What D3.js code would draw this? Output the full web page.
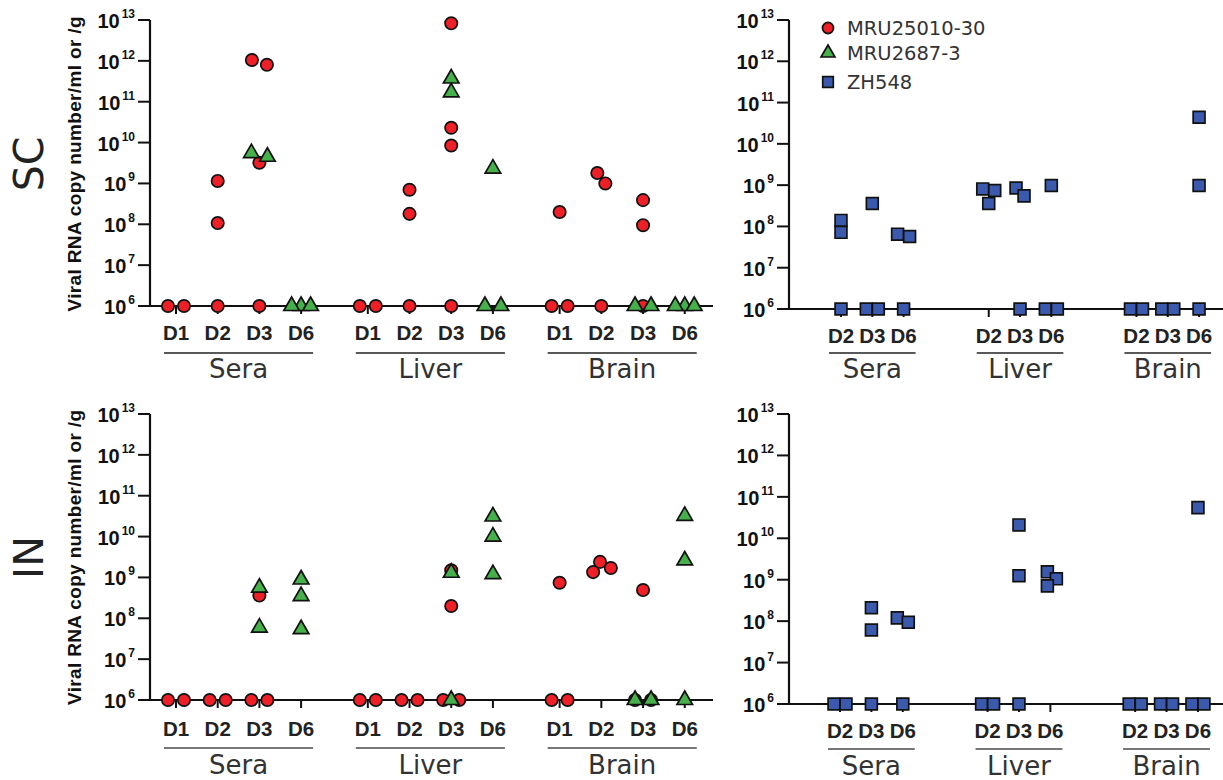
<!DOCTYPE html>
<html><head><meta charset="utf-8">
<script src="https://cdn.jsdelivr.net/npm/d3@7"></script>
<style>body{margin:0;background:#fff}</style>
</head><body><svg id="c" width="1223" height="780"></svg>
<script>
const groups = ["Sera","Liver","Brain"];
const daysMRU = ["D1","D2","D3","D6"];
const daysZH = ["D2","D3","D6"];
const yTickExps = [6,7,8,9,10,11,12,13];
const seriesNames = ["MRU25010-30","MRU2687-3","ZH548"];
const routes = ["SC","IN"];
const yLabel = "Viral RNA copy number/ml or /g";

// [group, day, value]
const sc_MRU25010_30 = [
 ["Sera","D1",1e6],["Sera","D1",1e6],
 ["Sera","D2",1.15e9],["Sera","D2",1.07e8],["Sera","D2",1e6],
 ["Sera","D3",1.05e12],["Sera","D3",8e11],["Sera","D3",3.2e9],["Sera","D3",1e6],
 ["Liver","D1",1e6],["Liver","D1",1e6],
 ["Liver","D2",7e8],["Liver","D2",1.8e8],["Liver","D2",1e6],
 ["Liver","D3",8.3e12],["Liver","D3",2.3e10],["Liver","D3",8.5e9],["Liver","D3",1e6],
 ["Brain","D1",2e8],["Brain","D1",1e6],["Brain","D1",1e6],
 ["Brain","D2",1.8e9],["Brain","D2",1.0e9],["Brain","D2",1e6],
 ["Brain","D3",3.9e8],["Brain","D3",9.5e7],["Brain","D3",1e6]
];
const sc_MRU2687_3 = [
 ["Sera","D3",5.5e9],["Sera","D3",4.5e9],
 ["Sera","D6",1e6],["Sera","D6",1e6],["Sera","D6",1e6],
 ["Liver","D3",3.7e11],["Liver","D3",1.7e11],
 ["Liver","D6",2.3e9],["Liver","D6",1e6],["Liver","D6",1e6],
 ["Brain","D3",1e6],["Brain","D3",1e6],
 ["Brain","D6",1e6],["Brain","D6",1e6],["Brain","D6",1e6]
];
const sc_ZH548 = [
 ["Sera","D2",1.4e8],["Sera","D2",7.2e7],["Sera","D2",1e6],
 ["Sera","D3",3.6e8],["Sera","D3",1e6],["Sera","D3",1e6],
 ["Sera","D6",6.5e7],["Sera","D6",5.7e7],["Sera","D6",1e6],
 ["Liver","D2",8.1e8],["Liver","D2",7.4e8],["Liver","D2",3.6e8],
 ["Liver","D3",8.5e8],["Liver","D3",5.5e8],["Liver","D3",1e6],
 ["Liver","D6",9.8e8],["Liver","D6",1e6],["Liver","D6",1e6],
 ["Brain","D2",1e6],["Brain","D2",1e6],
 ["Brain","D3",1e6],["Brain","D3",1e6],
 ["Brain","D6",4.4e10],["Brain","D6",9.8e8],["Brain","D6",1e6]
];
const in_MRU25010_30 = [
 ["Sera","D1",1e6],["Sera","D1",1e6],
 ["Sera","D2",1e6],["Sera","D2",1e6],
 ["Sera","D3",3.6e8],["Sera","D3",1e6],["Sera","D3",1e6],
 ["Liver","D1",1e6],["Liver","D1",1e6],
 ["Liver","D2",1e6],["Liver","D2",1e6],
 ["Liver","D3",1.5e9],["Liver","D3",2e8],["Liver","D3",1e6],["Liver","D3",1e6],
 ["Brain","D1",7.4e8],["Brain","D1",1e6],["Brain","D1",1e6],
 ["Brain","D2",2.4e9],["Brain","D2",1.7e9],["Brain","D2",1.35e9],
 ["Brain","D3",4.9e8],["Brain","D3",1e6],["Brain","D3",1e6]
];
const in_MRU2687_3 = [
 ["Sera","D3",5.6e8],["Sera","D3",5.9e7],
 ["Sera","D6",8.9e8],["Sera","D6",3.5e8],["Sera","D6",5.4e7],
 ["Liver","D3",1.3e9],["Liver","D3",1e6],
 ["Liver","D6",3.1e10],["Liver","D6",1.0e10],["Liver","D6",1.2e9],
 ["Brain","D3",1e6],["Brain","D3",1e6],
 ["Brain","D6",3.2e10],["Brain","D6",2.6e9],["Brain","D6",1e6]
];
const in_ZH548 = [
 ["Sera","D2",1e6],["Sera","D2",1e6],
 ["Sera","D3",2.1e8],["Sera","D3",6.1e7],["Sera","D3",1e6],
 ["Sera","D6",1.2e8],["Sera","D6",9.4e7],["Sera","D6",1e6],
 ["Liver","D2",1e6],["Liver","D2",1e6],
 ["Liver","D3",2.1e10],["Liver","D3",1.25e9],["Liver","D3",1e6],
 ["Liver","D6",1.55e9],["Liver","D6",1.05e9],["Liver","D6",7.1e8],
 ["Brain","D2",1e6],["Brain","D2",1e6],
 ["Brain","D3",1e6],["Brain","D3",1e6],
 ["Brain","D6",5.5e10],["Brain","D6",1e6],["Brain","D6",1e6]
];

const colors = ["#ee1f26","#46b04a","#3b5aad"];
const shapes = [d3.symbolCircle, d3.symbolTriangle, d3.symbolSquare];
const sizes = [120, 105, 140];

const svg = d3.select("#c");

const panels = [
 {route:0, axisX:150, xEnd:713, yTop:20, yBot:306, x0:176, step:41.7, gStep:4.6, days:daysMRU,
  series:[0,1], data:[sc_MRU25010_30, sc_MRU2687_3], dodge:{dx:16,dy:12,max:9.5},
  dayY:340, lineY:353, groupY:378, lineColor:"#222", lineW:1.3},
 {route:0, axisX:789, xEnd:1223, yTop:20, yBot:309, x0:841, step:31.3, gStep:4.72, days:daysZH,
  series:[2], data:[sc_ZH548], dodge:{dx:12,dy:10,max:9},
  dayY:343, lineY:353, groupY:378, lineColor:"#222", lineW:1.3},
 {route:1, axisX:150, xEnd:713, yTop:414, yBot:700, x0:176, step:41.7, gStep:4.6, days:daysMRU,
  series:[0,1], data:[in_MRU25010_30, in_MRU2687_3], dodge:{dx:16,dy:12,max:9.5},
  dayY:736, lineY:748, groupY:774, lineColor:"#777", lineW:2},
 {route:1, axisX:789, xEnd:1223, yTop:414, yBot:704, x0:840, step:31.4, gStep:4.7, days:daysZH,
  series:[2], data:[in_ZH548], dodge:{dx:12,dy:10,max:9},
  dayY:738, lineY:749, groupY:775, lineColor:"#777", lineW:2}
];

function dodgeCategory(pts, cfg){
  pts.sort((a,b)=>a.py-b.py);
  const clusters=[]; let cur=null;
  pts.forEach(p=>{
    if(!cur || p.py - cur[cur.length-1].py >= cfg.dy){cur=[p]; clusters.push(cur);} else cur.push(p);
  });
  clusters.forEach(cl=>{
    const placed=[];
    cl.forEach(p=>{
      let off=0;
      outer: for(let k=0;k<80;k++){
        const cands = k===0?[0]:[k,-k];
        for(const c of cands){
          if(placed.every(q=>{const dx=(c-q.off)/cfg.dx, dy=(p.py-q.py)/cfg.dy; return dx*dx+dy*dy>=1;})){off=c; break outer;}
        }
      }
      p.off=off; placed.push(p);
    });
    const mean=d3.mean(cl,p=>p.off);
    cl.forEach(p=>p.off-=mean);
    const m=d3.max(cl,p=>Math.abs(p.off));
    if(m>cfg.max) cl.forEach(p=>p.off*=cfg.max/m);
  });
}

panels.forEach(P=>{
  const g = svg.append("g");
  const y = d3.scaleLog().domain([1e6,1e13]).range([P.yBot, P.yTop]);
  const xs = d3.scaleLinear().domain([0,1]).range([P.x0, P.x0+P.step]);
  const xPos = (grp, day) => xs(groups.indexOf(grp)*P.gStep + P.days.indexOf(day));

  // y axis
  g.append("line").attr("x1",P.axisX).attr("x2",P.axisX).attr("y1",P.yTop).attr("y2",P.yBot+1)
    .attr("stroke","#111").attr("stroke-width",2.2);
  yTickExps.forEach(e=>{
    const yy = y(Math.pow(10,e));
    g.append("line").attr("x1",P.axisX-12).attr("x2",P.axisX).attr("y1",yy).attr("y2",yy)
      .attr("stroke","#111").attr("stroke-width",2);
    const t = g.append("text").attr("x",P.axisX-15).attr("y",yy+8).attr("text-anchor","end")
      .attr("font-family","'Liberation Sans', Arial, sans-serif").attr("font-weight","bold").attr("fill","#111");
    t.append("tspan").attr("font-size","20px").text("10");
    t.append("tspan").attr("font-size","12px").attr("dx",2).attr("dy",-10).text(e);
  });
  // x axis
  g.append("line").attr("x1",P.axisX-1).attr("x2",P.xEnd).attr("y1",P.yBot).attr("y2",P.yBot)
    .attr("stroke","#111").attr("stroke-width",2.2);
  groups.forEach(grp=>{
    P.days.forEach(day=>{
      const xx = xPos(grp,day);
      g.append("line").attr("x1",xx).attr("x2",xx).attr("y1",P.yBot).attr("y2",P.yBot+8)
        .attr("stroke","#111").attr("stroke-width",2);
      g.append("text").attr("x",xx).attr("y",P.dayY).attr("text-anchor","middle")
        .attr("font-family","'Liberation Sans', Arial, sans-serif").attr("font-weight","bold")
        .attr("font-size","20.5px").attr("fill","#222").text(day);
    });
    const xa = xPos(grp,P.days[0]) - 12, xb = xPos(grp,P.days[P.days.length-1]) + 12;
    g.append("line").attr("x1",xa).attr("x2",xb).attr("y1",P.lineY).attr("y2",P.lineY)
      .attr("stroke",P.lineColor).attr("stroke-width",P.lineW);
    g.append("text").attr("x",(xa+xb)/2).attr("y",P.groupY).attr("text-anchor","middle")
      .attr("font-family","'DejaVu Sans', Verdana, sans-serif").attr("font-size","26px")
      .attr("fill","#333").text(grp);
  });

  // points
  P.series.forEach((s,i)=>{
    const pts = P.data[i].map(d=>({grp:d[0], day:d[1], v:d[2], py:y(d[2])}));
    d3.groups(pts, d=>d.grp+"|"+d.day).forEach(([k,arr])=>dodgeCategory(arr, P.dodge));
    g.append("g").selectAll("path").data(pts).join("path")
      .attr("transform",d=>`translate(${xPos(d.grp,d.day)+d.off},${d.py})`)
      .attr("d", d3.symbol().type(shapes[s]).size(sizes[s]))
      .attr("fill",colors[s]).attr("stroke","#111").attr("stroke-width",1.7);
  });
});

// route labels and y-axis titles
[164, 557.5].forEach((cy,i)=>{
  svg.append("text").attr("transform",`translate(43,${cy}) rotate(-90)`).attr("text-anchor","middle")
    .attr("font-family","'DejaVu Sans', Verdana, sans-serif").attr("font-size","41px").attr("fill","#222")
    .text(routes[i]);
  svg.append("text").attr("transform",`translate(81,${cy}) rotate(-90)`).attr("text-anchor","middle")
    .attr("font-family","'Liberation Sans', Arial, sans-serif").attr("font-weight","bold")
    .attr("font-size","19px").attr("fill","#111").attr("textLength",295).attr("lengthAdjust","spacing")
    .text(yLabel);
});

// legend
const leg = svg.append("g");
seriesNames.forEach((n,i)=>{
  const ly = [28,53,82][i];
  leg.append("path").attr("transform",`translate(828,${ly})`)
    .attr("d",d3.symbol().type(shapes[i]).size(sizes[i]*0.8))
    .attr("fill",colors[i]).attr("stroke","#111").attr("stroke-width",1.7);
  leg.append("text").attr("x",847).attr("y",ly+7).attr("font-family","'DejaVu Sans', Verdana, sans-serif")
    .attr("font-size","19.5px").attr("fill","#333").text(n);
});
</script></body></html>
